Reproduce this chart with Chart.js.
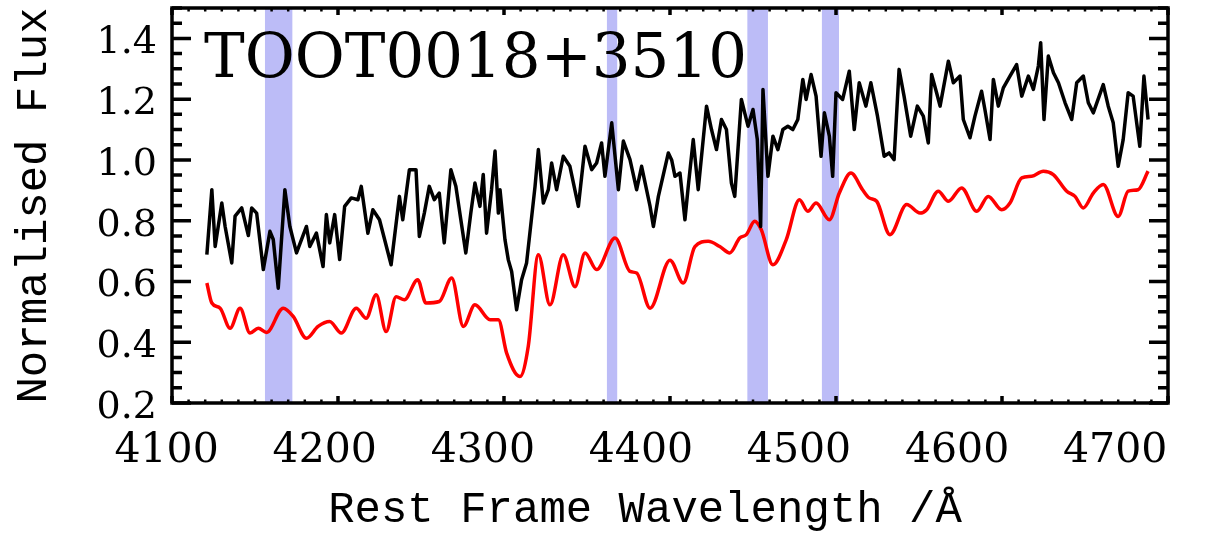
<!DOCTYPE html>
<html>
<head>
<meta charset="utf-8">
<script src="https://cdn.jsdelivr.net/npm/chart.js@4.4.0/dist/chart.umd.min.js"></script>
<style>
  html, body { margin: 0; padding: 0; background: #fff; }
  #wrap { width: 1229px; height: 536px; }
</style>
</head>
<body>
<div id="wrap"><canvas id="spec" width="1229" height="536"></canvas></div>
<script>
const objectName = "TOOT0018+3510";
const xTitle = "Rest Frame Wavelength /Å";
const yTitle = "Normalised Flux";

const xTickLabels = [4100, 4200, 4300, 4400, 4500, 4600, 4700];
const yTickLabels = [0.2, 0.4, 0.6, 0.8, 1.0, 1.2, 1.4];

// shaded wavelength windows
const bandStart = [4156, 4362, 4446.6, 4491.5];
const bandEnd   = [4172.5, 4368.2, 4459, 4501.8];

// observed spectrum (black)
const obsWave = [
  4121, 4124, 4126, 4130, 4132, 4136, 4138, 4142, 4146, 4148, 4151, 4155, 4159, 4161, 4164, 4168,
  4171, 4175, 4181, 4183, 4187, 4191, 4193, 4195, 4198, 4201, 4204, 4208, 4212, 4214, 4218, 4221,
  4225, 4232, 4237, 4239, 4243, 4247, 4249, 4252, 4255, 4258, 4261, 4264, 4268, 4271, 4274, 4277,
  4280, 4282.5, 4285.5, 4287.5, 4289.5, 4292.5, 4294.6, 4296.6, 4297.6, 4300.6, 4302.6, 4304.6,
  4307.6, 4310.6, 4313.6, 4318.7, 4320.7, 4323.7, 4326.7, 4328.7, 4331.7, 4335.7, 4339.7, 4344.8,
  4348.8, 4352.8, 4355.8, 4358.8, 4360.8, 4364.9, 4368.9, 4371.9, 4375.9, 4379.9, 4382.9, 4388,
  4390, 4393, 4399, 4401, 4403, 4406, 4409, 4411, 4414, 4417, 4422, 4425, 4428, 4431, 4434, 4437,
  4439, 4443, 4447, 4450, 4452.6, 4454.6, 4456, 4459, 4462, 4465, 4468, 4471, 4474, 4477, 4480,
  4482, 4485, 4488, 4491, 4493, 4496, 4498, 4500, 4504, 4508, 4511, 4514, 4518, 4521, 4525, 4529,
  4532, 4535, 4538, 4541, 4545, 4549, 4552.6, 4555.6, 4557.6, 4560.6, 4562.7, 4567.7, 4570.7,
  4574.7, 4576.7, 4580.7, 4583.7, 4587.7, 4589.7, 4592.8, 4594.8, 4597.8, 4600.8, 4604.8, 4608.8,
  4611.9, 4615.9, 4618.9, 4621.9, 4623.3, 4625.3, 4627.9, 4631, 4634, 4638, 4642, 4645, 4649,
  4652, 4655, 4661, 4664, 4667, 4670, 4673, 4676, 4679, 4683, 4685.5, 4688
];
const obsFlux = [
  0.688, 0.902, 0.715, 0.858, 0.781, 0.661, 0.815, 0.842, 0.751, 0.842, 0.825, 0.639, 0.765, 0.738, 0.578, 0.902,
  0.781, 0.694, 0.781, 0.715, 0.759, 0.649, 0.820, 0.727, 0.820, 0.672, 0.847, 0.875, 0.869, 0.913, 0.759, 0.836,
  0.803, 0.655, 0.880, 0.803, 0.968, 0.968, 0.748, 0.825, 0.913, 0.869, 0.891, 0.727, 0.968, 0.913, 0.803, 0.694,
  0.825, 0.924, 0.847, 0.952, 0.759, 0.902, 1.029, 0.825, 0.902, 0.737, 0.671, 0.633,
  0.507, 0.606, 0.661, 0.913, 1.034, 0.858, 0.902, 0.990, 0.902, 1.012, 0.979, 0.847,
  1.045, 0.968, 0.990, 1.056, 0.946, 1.122, 0.902, 1.062, 1.001, 0.902, 0.979, 0.847,
  0.781, 0.880, 1.023, 1.000, 0.946, 0.957, 0.803, 0.913, 1.067, 0.902, 1.177, 1.100, 1.034, 1.133, 1.100, 0.924,
  0.880, 1.199, 1.111, 1.166, 1.067, 0.781, 1.232, 0.946, 1.078, 1.034, 1.100, 1.111, 1.100, 1.133, 1.265,
  1.199, 1.281, 1.210, 1.012, 1.155, 1.078, 0.946, 1.221, 1.199, 1.292, 1.100, 1.254, 1.177, 1.254, 1.144, 1.012,
  1.023, 1.001, 1.298, 1.210, 1.078, 1.177, 1.144, 1.056, 1.281, 1.221, 1.177, 1.325, 1.254,
  1.276, 1.133, 1.073, 1.144, 1.226, 1.166, 1.067, 1.265, 1.177, 1.237, 1.276, 1.314,
  1.210, 1.276, 1.232, 1.309, 1.386, 1.133, 1.342, 1.287, 1.254, 1.188, 1.133, 1.254, 1.276,
  1.188, 1.155, 1.248, 1.177, 1.122, 0.979, 1.067, 1.221, 1.210, 1.045, 1.276, 1.133
];

// model spectrum (red)
const modelWave = [
  4121, 4124, 4129, 4135, 4141, 4147, 4152, 4157, 4167, 4173, 4181, 4188, 4195, 4202, 4211, 4217,
  4223, 4229, 4235, 4240, 4248, 4253, 4261, 4268.5, 4275.5, 4282.5, 4291.6, 4296.6, 4301.6, 4309.6,
  4314.6, 4320.7, 4327.7, 4335.7, 4342.8, 4348.8, 4355.8, 4366.9, 4375.9, 4379.9, 4388, 4400, 4408,
  4415, 4423, 4430, 4436, 4442, 4446, 4451, 4455, 4462, 4470, 4478, 4483, 4488, 4496, 4502, 4509,
  4516, 4520, 4524.5, 4532.5, 4542.6, 4550.6, 4554.6, 4561.6, 4567.7, 4575.7, 4584.8, 4591.7, 4599.8,
  4604.8, 4611.9, 4617.9, 4624.9, 4630.9, 4639, 4644, 4649, 4655, 4661, 4670, 4676, 4682, 4688
];
const modelFlux = [
  0.595, 0.529, 0.512, 0.446, 0.512, 0.430, 0.446, 0.432, 0.512, 0.485, 0.413, 0.452, 0.468, 0.430, 0.512, 0.479,
  0.556, 0.435, 0.550, 0.540, 0.606, 0.529, 0.534, 0.611, 0.452, 0.523, 0.474, 0.474, 0.364, 0.287,
  0.386, 0.688, 0.523, 0.688, 0.583, 0.694, 0.639, 0.743, 0.633, 0.628, 0.512, 0.670, 0.595,
  0.715, 0.732, 0.715, 0.694, 0.743, 0.754, 0.798, 0.770, 0.655, 0.737, 0.869, 0.831, 0.858, 0.803, 0.891, 0.957,
  0.902, 0.875, 0.864, 0.754, 0.853, 0.825, 0.836, 0.897, 0.864, 0.908, 0.831, 0.880, 0.836,
  0.858, 0.941, 0.946, 0.963, 0.952, 0.897, 0.880, 0.842, 0.891, 0.919, 0.814, 0.897, 0.902, 0.963
];

const serif = "'DejaVu Serif', serif";
const mono = "'Liberation Mono', monospace";

// drop the half-label padding chart.js adds round the chart area
function noEdgePadding(s) {
  s.paddingTop = 0;
  s.paddingBottom = 0;
  s.paddingLeft = 0;
  s.paddingRight = 0;
}

// bands, object name, frame with inward ticks, x title
const decor = {
  id: "decor",
  beforeDatasetsDraw(chart) {
    const { ctx, chartArea: a, scales } = chart;
    const x = scales.x;
    ctx.save();
    ctx.fillStyle = "#bcbcf7";
    bandStart.forEach((s, i) => {
      const l = x.getPixelForValue(s);
      const r = x.getPixelForValue(bandEnd[i]);
      ctx.fillRect(l, a.top, r - l, a.bottom - a.top);
    });
    ctx.fillStyle = "#000";
    ctx.font = "61px " + serif;
    ctx.textAlign = "left";
    ctx.textBaseline = "alphabetic";
    ctx.fillText(objectName, a.left + 32, a.top + 69);
    ctx.restore();
  },
  afterDraw(chart) {
    const { ctx, chartArea: a, scales } = chart;
    const x = scales.x, y = scales.y;
    ctx.save();
    ctx.strokeStyle = "#000";
    ctx.lineCap = "butt";

    ctx.lineWidth = 3.5;
    for (let i = 0; ; i++) {
      const v = 0.2 + i * 0.05;
      if (v > 1.5 + 1e-6) break;
      const py = y.getPixelForValue(v);
      const len = i % 4 === 0 ? 19 : 10;
      ctx.beginPath();
      ctx.moveTo(a.left, py); ctx.lineTo(a.left + len, py);
      ctx.moveTo(a.right, py); ctx.lineTo(a.right - len, py);
      ctx.stroke();
    }

    for (let v = 4100; v <= 4700; v += 10) {
      const px = x.getPixelForValue(v);
      const major = v % 100 === 0;
      ctx.lineWidth = major ? 3.5 : 2.5;
      const len = major ? 7 : 3.5;
      ctx.beginPath();
      ctx.moveTo(px, a.bottom); ctx.lineTo(px, a.bottom - len);
      ctx.moveTo(px, a.top); ctx.lineTo(px, a.top + len);
      ctx.stroke();
    }

    ctx.lineWidth = 3.5;
    ctx.strokeRect(a.left, a.top, a.right - a.left, a.bottom - a.top);

    ctx.fillStyle = "#000";
    ctx.font = "44px " + mono;
    ctx.textAlign = "center";
    ctx.textBaseline = "alphabetic";
    ctx.fillText(xTitle, 645, 522);
    ctx.restore();
  }
};

new Chart(document.getElementById("spec"), {
  type: "line",
  data: {
    datasets: [
      {
        label: "observed",
        data: obsWave.map((w, i) => ({ x: w, y: obsFlux[i] })),
        borderColor: "#000",
        borderWidth: 3.5,
        borderJoinStyle: "round",
        pointRadius: 0,
        tension: 0,
        xAxisID: "x",
        yAxisID: "y"
      },
      {
        label: "model",
        data: modelWave.map((w, i) => ({ x: w, y: modelFlux[i] })),
        borderColor: "#ff0000",
        borderWidth: 3.5,
        pointRadius: 0,
        cubicInterpolationMode: "monotone",
        xAxisID: "x",
        yAxisID: "y"
      }
    ]
  },
  options: {
    responsive: false,
    animation: false,
    devicePixelRatio: 1,
    layout: { padding: { top: 8, right: 61, bottom: 0, left: 0 } },
    plugins: { legend: { display: false }, tooltip: { enabled: false } },
    scales: {
      x: {
        type: "linear",
        min: 4100,
        max: 4700,
        display: false,
        afterFit: noEdgePadding
      },
      xl: {
        type: "linear",
        position: "bottom",
        min: 4103.4,
        max: 4733.4,
        bounds: "data",
        grid: { display: false, drawTicks: false },
        border: { display: false },
        afterBuildTicks: s => { s.ticks = xTickLabels.map(v => ({ value: v })); },
        afterFit: s => { s.height = 133; noEdgePadding(s); },
        ticks: {
          autoSkip: false,
          maxRotation: 0,
          padding: 24,
          color: "#000",
          font: { family: serif, size: 41 },
          callback: v => String(v)
        }
      },
      y: {
        type: "linear",
        position: "left",
        min: 0.2,
        max: 1.5,
        grid: { display: false, drawTicks: false },
        border: { display: false },
        afterBuildTicks: s => { s.ticks = yTickLabels.map(v => ({ value: v })); },
        afterFit: s => { s.width = 172; noEdgePadding(s); },
        ticks: {
          padding: 15,
          labelOffset: 5,
          color: "#000",
          font: { family: serif, size: 38 },
          callback: v => v.toFixed(1)
        },
        title: {
          display: true,
          text: yTitle,
          color: "#000",
          font: { family: mono, size: 44 },
          padding: { top: 8, bottom: 0 }
        }
      }
    }
  },
  plugins: [decor]
});
</script>
</body>
</html>
